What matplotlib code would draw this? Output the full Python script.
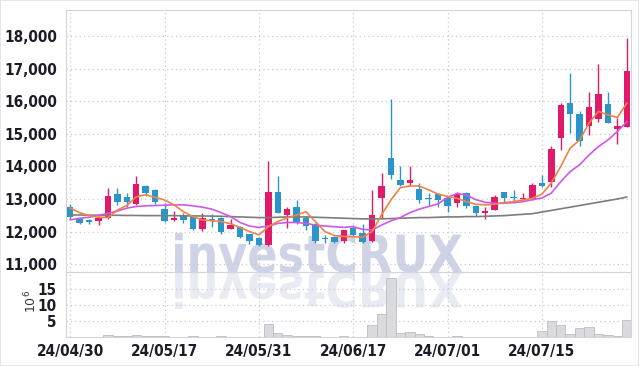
import numpy as np
import matplotlib.pyplot as plt
from matplotlib.patches import PathPatch, Rectangle
from matplotlib.textpath import TextPath
from matplotlib.font_manager import FontProperties
from matplotlib.transforms import Affine2D
from matplotlib.ticker import FuncFormatter

# OHLC (KRW), 2024-04-30 .. 2024-07-26
opens = [12750, 12380, 12360, 12310, 12420, 13150, 13050, 12850, 13400, 13280,
         12700, 12360, 12480, 12440, 12080, 12400, 12430, 12080, 12150, 11930,
         11800, 11600, 13230, 12500, 12740, 12410, 12230, 11790, 11820, 11700,
         12100, 11950, 11700, 13030, 14250, 13590, 13480, 13310, 13020, 13160,
         13030, 12890, 13180, 12790, 12560, 12670, 13220, 13070, 13000, 13000,
         13480, 13510, 14870, 15960, 15610, 15230, 15470, 15920, 15160, 15220]
highs = [12850, 12430, 12400, 12470, 13350, 13330, 13180, 13700, 13420, 13300,
         12870, 12640, 12560, 12460, 12560, 12540, 12440, 12380, 12160, 11940,
         11830, 14180, 13710, 12750, 12970, 12480, 12250, 11900, 11880, 12060,
         12200, 12230, 13280, 13790, 16060, 14020, 14010, 13490, 13180, 13190,
         13060, 13200, 13200, 12810, 12750, 13120, 13230, 13280, 13180, 13480,
         13740, 14630, 15960, 16880, 15690, 16280, 17150, 16280, 15480, 17930]
lows = [12400, 12220, 12220, 12200, 12380, 12820, 12750, 12820, 13100, 12840,
        12300, 12310, 12270, 12050, 12010, 12130, 11930, 12070, 11800, 11610,
        11560, 11560, 12580, 12100, 12240, 12050, 11660, 11640, 11640, 11660,
        11880, 11650, 11690, 12410, 13610, 13400, 13400, 12890, 12820, 12770,
        12600, 12770, 12720, 12480, 12380, 12660, 12920, 12890, 12960, 12980,
        13370, 13380, 14490, 15020, 14630, 14970, 15370, 15320, 14690, 15220]
closes = [12450, 12250, 12300, 12410, 13100, 12920, 12900, 13450, 13180, 12900,
          12320, 12420, 12360, 12080, 12410, 12350, 12000, 12200, 11820, 11700,
          11590, 13200, 12580, 12700, 12260, 12180, 11700, 11760, 11670, 12050,
          11900, 11670, 12500, 13400, 13740, 13430, 13590, 12970, 13000, 12970,
          12790, 13160, 12790, 12560, 12630, 13060, 13040, 13020, 13040, 13430,
          13390, 14540, 15880, 15600, 14770, 15820, 16220, 15330, 15240, 16930]

# moving averages as drawn on the chart
ma_short = [12720, 12580, 12490, 12440, 12430, 12660, 12800, 13070, 13130, 13050,
            12970, 12820, 12610, 12460, 12360, 12330, 12310, 12240, 12130, 12000,
            11900, 12150, 12310, 12420, 12510, 12610, 12300, 12000, 11880, 11850,
            11840, 11830, 12000, 12510, 12970, 13350, 13400, 13400, 13280, 13150,
            13080, 13020, 12920, 12840, 12820, 12840, 12890, 12920, 12970, 13020,
            13150, 13490, 14000, 14560, 14810, 15330, 15690, 15580, 15500, 15940]
ma_mid = [12360, 12410, 12440, 12500, 12560, 12630, 12720, 12770, 12790, 12800,
          12810, 12820, 12820, 12790, 12750, 12690, 12580, 12460, 12280, 12170,
          12130, 12170, 12250, 12280, 12280, 12250, 12200, 12170, 12150, 12130,
          12150, 12070, 12050, 12200, 12330, 12430, 12580, 12690, 12770, 12850,
          13050, 13170, 13120, 12980, 12900, 12870, 12870, 12890, 12920, 12980,
          13030, 13180, 13530, 13840, 14050, 14350, 14610, 14810, 15070, 15370]
ma_long = [12510, 12510, 12505, 12500, 12500, 12500, 12495, 12495, 12490, 12490,
           12490, 12490, 12485, 12480, 12480, 12475, 12470, 12460, 12450, 12440,
           12430, 12430, 12440, 12450, 12450, 12450, 12440, 12430, 12420, 12410,
           12400, 12390, 12390, 12390, 12400, 12410, 12420, 12430, 12430, 12440,
           12450, 12450, 12460, 12460, 12470, 12480, 12490, 12510, 12530, 12550,
           12600, 12650, 12700, 12750, 12800, 12850, 12900, 12950, 13000, 13060]

# volume in millions of shares
volume = [0.1, 0.1, 0.1, 0.1, 0.6, 0.35, 0.3, 0.5, 0.3, 0.3,
          0.2, 0.15, 0.15, 0.4, 0.1, 0.1, 0.35, 0.1, 0.1, 0.1,
          0.1, 4.1, 1.4, 0.75, 0.45, 0.2, 0.35, 0.15, 0.15, 0.35,
          0.15, 0.15, 3.9, 7.1, 18.5, 1.3, 1.6, 1.0, 0.2, 0.15,
          0.15, 0.35, 0.15, 0.15, 0.15, 0.15, 0.15, 0.15, 0.15, 0.15,
          1.8, 4.9, 3.7, 1.0, 2.7, 3.0, 1.0, 0.6, 0.4, 5.5]

date_ticks = [0, 10, 20, 30, 40, 50]
date_labels = ['24/04/30', '24/05/17', '24/05/31', '24/06/17', '24/07/01', '24/07/15']
price_ticks = list(range(11000, 18001, 1000))
vol_ticks = [5, 10, 15]

UP = '#e01a68'
DOWN = '#2b95c9'
GRID = '#c4c8da'
SPINE = '#d2d4de'

fig = plt.figure(figsize=(6.39, 3.66), dpi=100, facecolor='white')
ax = fig.add_axes([66/639, 94/366, 565/639, 262/366])
axv = fig.add_axes([66/639, 29/366, 565/639, 65/366], sharex=ax)

# watermark + its mirror image
tp = TextPath((0, 0), 'investCRUX', size=1, prop=FontProperties(family='DejaVu Sans', weight='bold'))
bb = tp.get_extents()
sx = 287 / bb.width / 100
sy = 39 / bb.y1 / 100
main_tr = Affine2D().translate(-bb.x0, 0).scale(sx, sy).translate(175/100, 94/100) + fig.dpi_scale_trans
refl_tr = Affine2D().translate(-bb.x0, 0).scale(sx, -sy * 0.95).translate(175/100, 94/100) + fig.dpi_scale_trans
fig.patches.append(PathPatch(tp, transform=refl_tr, facecolor='#e9ebf3', lw=0, zorder=-2))
fig.patches.append(PathPatch(tp, transform=main_tr, facecolor='#ced3e6', lw=0, zorder=-2))

x = np.arange(len(opens))
o = np.array(opens); c = np.array(closes)
cols = np.where(c >= o, UP, DOWN)

for a in (ax, axv):
    a.set_facecolor('none')
    for s in a.spines.values():
        s.set_color(SPINE)
        s.set_linewidth(0.8)
    a.grid(True, color=GRID, linestyle=(0, (1, 2.5)), lw=0.9)
    a.set_axisbelow(True)
    a.tick_params(length=0, labelsize=11, labelcolor='#1c1c28')

ax.vlines(x, lows, highs, color=cols, lw=1.0, zorder=2)
ax.bar(x, np.maximum(np.abs(c - o), 35), bottom=np.minimum(o, c), width=0.68,
       color=cols, linewidth=0, zorder=3)
ax.plot(x, ma_long, color='#7c7c7c', lw=1.2, zorder=4)
ax.plot(x, ma_mid, color='#cf58e6', lw=1.2, zorder=4)
ax.plot(x, ma_short, color='#ef8246', lw=1.2, zorder=4)

ax.set_xlim(-0.45, len(opens) - 0.55)
ax.set_ylim(10760, 18800)
ax.set_yticks(price_ticks)
ax.yaxis.set_major_formatter(FuncFormatter(lambda v, p: f'{v:,.0f}'))
ax.set_xticks(date_ticks)
plt.setp(ax.get_xticklabels(), visible=False)
ax.tick_params(axis='y', pad=6)

axv.bar(x, volume, width=1.0, color='#d9d9de', edgecolor='#bcbcc6', lw=0.6, zorder=2)
axv.set_ylim(0, 20.5)
axv.set_yticks(vol_ticks)
axv.set_xticks(date_ticks)
axv.set_xticklabels(date_labels)
axv.tick_params(axis='x', pad=5)
axv.tick_params(axis='y', pad=7)

for lab in ax.get_yticklabels() + axv.get_yticklabels() + axv.get_xticklabels():
    lab.set_family('DejaVu Sans')
    lab.set_fontstretch('condensed')
    lab.set_fontweight('bold')

fig.text(31/639, 1 - 301/366, r'$10^{6}$', rotation=90, ha='center', va='center',
         fontsize=9, color='#333340')

fig.patches.append(Rectangle((0, 0), 1, 1, transform=fig.transFigure, fill=False,
                             edgecolor='#e2e2e6', lw=1.2, zorder=-3))

fig.savefig('out.png', dpi=100, facecolor='white')
